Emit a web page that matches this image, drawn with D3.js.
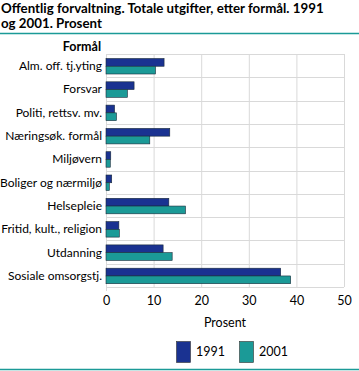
<!DOCTYPE html>
<html><head><meta charset="utf-8">
<script src="https://cdn.jsdelivr.net/npm/d3@7"></script>
<style>body{margin:0;background:#fff}svg{display:block}text{font-family:Lato,"Liberation Sans",sans-serif}</style>
</head><body>
<script>
const categories = ["Alm. off. tj.yting","Forsvar","Politi, rettsv. mv.","Næringsøk. formål","Miljøvern","Boliger og nærmiljø","Helsepleie","Fritid, kult., religion","Utdanning","Sosiale omsorgstj."];
const values1991 = [12.2,5.9,1.8,13.4,1.0,1.2,13.2,2.7,12.0,36.7];
const values2001 = [10.4,4.5,2.2,9.2,0.9,0.7,16.7,2.8,13.9,38.8];
const seriesNames = ["1991","2001"];
const colors = ["#1a3291","#1b9a97"];
const xTicks = [0,10,20,30,40,50];

const W=359,H=371;
const FONT="Lato,'Liberation Sans',sans-serif";
const svg=d3.select("body").append("svg").attr("width",W).attr("height",H);
const x=d3.scaleLinear().domain([0,50]).range([106,344]);
const y=d3.scaleBand().domain(categories).range([54,287]);
const inner=d3.scaleBand().domain(seriesNames).range([4.5,y.bandwidth()-3.3]);

svg.append("text").attr("x",1).attr("y",13).attr("font-size",13.3).attr("font-weight","bold").text("Offentlig forvaltning. Totale utgifter, etter formål. 1991");
svg.append("text").attr("x",1).attr("y",28).attr("font-size",13.3).attr("font-weight","bold").text("og 2001. Prosent");
svg.append("line").attr("x1",0).attr("x2",W).attr("y1",33.5).attr("y2",33.5).attr("stroke","#1b9a97").attr("stroke-width",1.5);
svg.append("line").attr("x1",0).attr("x2",W).attr("y1",369.5).attr("y2",369.5).attr("stroke","#1b9a97").attr("stroke-width",1.5);

// grid
const g=svg.append("g");
g.selectAll(".vg").data(xTicks.slice(1)).join("line").attr("x1",d=>x(d)+0.5).attr("x2",d=>x(d)+0.5).attr("y1",54).attr("y2",287).attr("stroke","#d9d9d9");
g.selectAll(".hg").data(categories).join("line").attr("x1",106).attr("x2",344).attr("y1",d=>Math.round(y(d))+0.5).attr("y2",d=>Math.round(y(d))+0.5).attr("stroke","#d9d9d9");
g.append("line").attr("x1",106).attr("x2",344).attr("y1",287.5).attr("y2",287.5).attr("stroke","#d9d9d9");
g.append("line").attr("x1",106.5).attr("x2",106.5).attr("y1",54).attr("y2",291).attr("stroke","#d9d9d9");

// bars
const data=categories.map((c,i)=>({c,v:[values1991[i],values2001[i]]}));
const cg=svg.selectAll(".cat").data(data).join("g").attr("transform",d=>`translate(0,${y(d.c)})`);
cg.selectAll("rect").data(d=>d.v.map((v,j)=>({v,s:seriesNames[j],j}))).join("rect")
  .attr("x",x(0)).attr("y",d=>inner(d.s)).attr("height",inner.bandwidth())
  .attr("width",d=>x(d.v)-x(0)).attr("fill",d=>colors[d.j]).attr("stroke","#1a2a3a").attr("stroke-width",0.6);

// y labels
svg.selectAll(".yl").data(categories).join("text").attr("x",102).attr("y",d=>y(d)+y.bandwidth()/2+4.5)
  .attr("text-anchor","end").attr("font-size",12).text(d=>d);
svg.append("text").attr("x",101).attr("y",51).attr("text-anchor","end").attr("font-size",12.5).attr("font-weight","bold").text("Formål");

// x axis
const ax=svg.append("g").attr("transform","translate(0,287)").call(d3.axisBottom(x).tickValues(xTicks).tickSize(0).tickPadding(9));
ax.select(".domain").remove();
ax.selectAll("text").attr("font-size",12.5).attr("font-family",FONT).attr("fill","#000");
svg.append("text").attr("x",225).attr("y",327).attr("text-anchor","middle").attr("font-size",12.5).text("Prosent");

// legend
const lx=[176.5,239.5];
seriesNames.forEach((s,i)=>{
  svg.append("rect").attr("x",lx[i]).attr("y",341.5).attr("width",14).attr("height",21).attr("fill",colors[i]).attr("stroke","#333").attr("stroke-width",0.6);
  svg.append("text").attr("x",lx[i]+19.5).attr("y",356).attr("font-size",12.5).text(s);
});
</script>
</body></html>
